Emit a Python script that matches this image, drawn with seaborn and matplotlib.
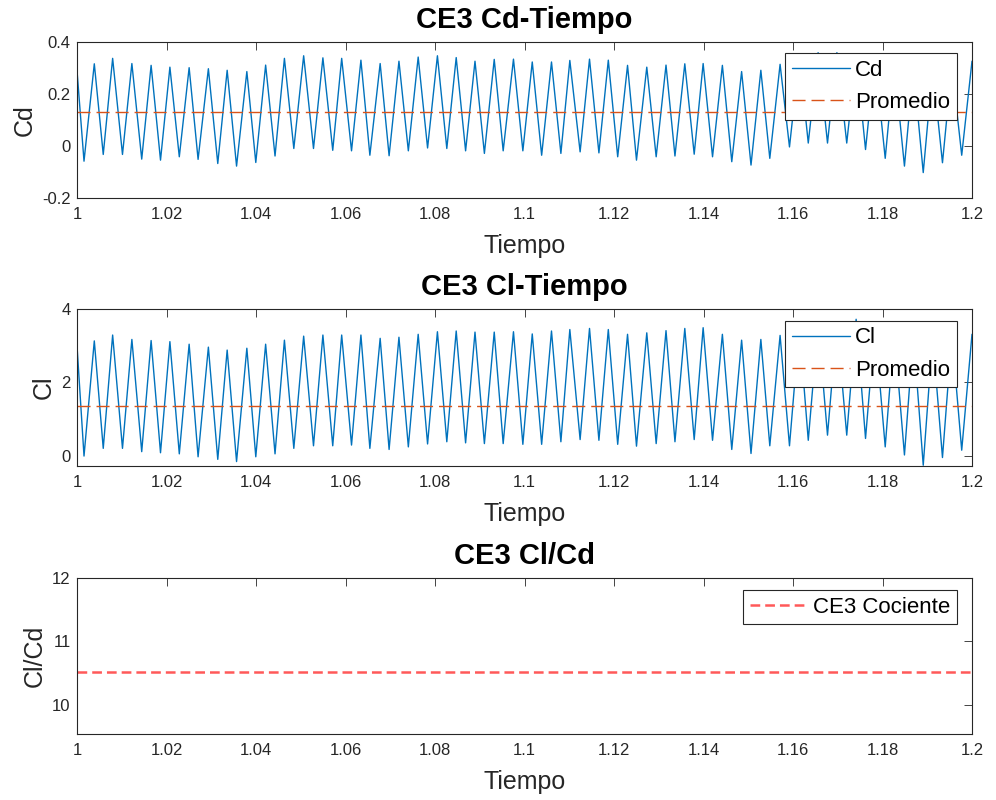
import matplotlib
matplotlib.use("Agg")
import matplotlib.pyplot as plt
import seaborn as sns

# ---------------- data ----------------
tiempo = [1.0000,
          1.0015, 1.0038, 1.0058, 1.0079, 1.0101, 1.0122, 1.0144, 1.0165, 1.0186, 1.0207,
          1.0228, 1.0250, 1.0270, 1.0293, 1.0314, 1.0335, 1.0356, 1.0379, 1.0399, 1.0421,
          1.0442, 1.0463, 1.0484, 1.0506, 1.0528, 1.0549, 1.0571, 1.0591, 1.0613, 1.0634,
          1.0654, 1.0677, 1.0697, 1.0719, 1.0740, 1.0762, 1.0783, 1.0805, 1.0826, 1.0847,
          1.0868, 1.0889, 1.0910, 1.0932, 1.0952, 1.0975, 1.0996, 1.1017, 1.1038, 1.1060,
          1.1081, 1.1101, 1.1124, 1.1145, 1.1166, 1.1187, 1.1208, 1.1230, 1.1250, 1.1273,
          1.1294, 1.1316,
          1.1336, 1.1358, 1.1379, 1.1399, 1.1420, 1.1442, 1.1463, 1.1485, 1.1506, 1.1528,
          1.1548, 1.1571, 1.1592, 1.1614, 1.1634, 1.1656, 1.1677, 1.1698, 1.1720, 1.1741,
          1.1762, 1.1783, 1.1806, 1.1826, 1.1849, 1.1869, 1.1891, 1.1912, 1.1934, 1.1955,
          1.1977,
          1.2000]

cd = [0.276,
      -0.059, 0.317, -0.033, 0.338, -0.033, 0.318, -0.051, 0.311, -0.055, 0.304,
      -0.042, 0.302, -0.052, 0.298, -0.068, 0.292, -0.078, 0.287, -0.064, 0.312,
      -0.039, 0.338, -0.010, 0.348, -0.010, 0.340, -0.017, 0.338, -0.019, 0.331,
      -0.036, 0.318, -0.038, 0.327, -0.019, 0.343, -0.008, 0.348, -0.010, 0.341,
      -0.019, 0.327, -0.029, 0.334, -0.019, 0.335, -0.019, 0.324, -0.036, 0.324,
      -0.029, 0.330, -0.023, 0.335, -0.027, 0.331, -0.042, 0.311, -0.055, 0.304,
      -0.042, 0.312,
      -0.039, 0.317, -0.032, 0.318, -0.042, 0.311, -0.061, 0.287, -0.074, 0.292,
      -0.048, 0.315, -0.004, 0.345, 0.011, 0.360, 0.011, 0.360, 0.011, 0.350,
      -0.014, 0.340, -0.048, 0.320, -0.078, 0.300, -0.103, 0.300, -0.065, 0.310,
      -0.036,
      0.327]

cl = [2.87,
      -0.01, 3.13, 0.20, 3.29, 0.20, 3.17, 0.11, 3.14, 0.08, 3.11,
      0.05, 3.04, -0.03, 2.96, -0.10, 2.88, -0.16, 2.93, -0.03, 3.04,
      0.05, 3.15, 0.20, 3.26, 0.27, 3.29, 0.27, 3.29, 0.29, 3.29,
      0.20, 3.20, 0.17, 3.23, 0.24, 3.31, 0.32, 3.38, 0.38, 3.40,
      0.35, 3.37, 0.33, 3.37, 0.33, 3.38, 0.31, 3.32, 0.31, 3.40,
      0.38, 3.44, 0.44, 3.47, 0.42, 3.44, 0.31, 3.31, 0.26, 3.35,
      0.33, 3.41,
      0.38, 3.47, 0.44, 3.49, 0.42, 3.31, 0.17, 3.15, 0.06, 3.17,
      0.27, 3.28, 0.27, 3.50, 0.42, 3.60, 0.56, 3.62, 0.56, 3.72,
      0.47, 3.55, 0.24, 3.40, 0.02, 3.30, -0.26, 3.25, -0.05, 3.30,
      0.15,
      3.31]

cd_promedio = 0.129
cl_promedio = 1.35
cociente = 10.52
t_rango = [1.0, 1.2]

xticks = [1.0, 1.02, 1.04, 1.06, 1.08, 1.1, 1.12, 1.14, 1.16, 1.18, 1.2]
xtick_labels = ["1", "1.02", "1.04", "1.06", "1.08", "1.1", "1.12", "1.14", "1.16", "1.18", "1.2"]
cd_yticks = [-0.2, 0, 0.2, 0.4]
cd_ytick_labels = ["-0.2", "0", "0.2", "0.4"]
cl_yticks = [0, 2, 4]
cl_ytick_labels = ["0", "2", "4"]
q_yticks = [10, 11, 12]
q_ytick_labels = ["10", "11", "12"]

# ---------------- style ----------------
sns.set_style("white")
plt.rcParams["font.family"] = ["Liberation Sans", "DejaVu Sans"]
plt.rcParams["axes.unicode_minus"] = False
plt.rcParams["lines.scale_dashes"] = False

AX_COL = "#262626"
BLUE = "#0072BD"
ORANGE = "#D95319"

W, H = 996, 800
fig = plt.figure(figsize=(W / 100, H / 100), dpi=100)


def add_ax(top, bottom):
    return fig.add_axes([77.3 / W, 1 - bottom / H, (972 - 77.3) / W, (bottom - top) / H])


ax1 = add_ax(42.3, 197.7)
ax2 = add_ax(309.0, 465.7)
ax3 = add_ax(577.7, 734.0)

dash_prom = (0, (9.4, 4.3))

sns.lineplot(x=tiempo, y=cd, ax=ax1, color=BLUE, linewidth=1.0, label="Cd",
             estimator=None, sort=False)
sns.lineplot(x=t_rango, y=[cd_promedio, cd_promedio], ax=ax1, color=ORANGE,
             linewidth=1.0, linestyle=dash_prom, label="Promedio", estimator=None, sort=False)

sns.lineplot(x=tiempo, y=cl, ax=ax2, color=BLUE, linewidth=1.0, label="Cl",
             estimator=None, sort=False)
sns.lineplot(x=t_rango, y=[cl_promedio, cl_promedio], ax=ax2, color=ORANGE,
             linewidth=1.0, linestyle=dash_prom, label="Promedio", estimator=None, sort=False)

sns.lineplot(x=t_rango, y=[cociente, cociente], ax=ax3, color="#ff0000", alpha=0.65,
             linewidth=1.8, linestyle=(0, (7.0, 3.6)), label="CE3 Cociente",
             estimator=None, sort=False)

configs = [
    (ax1, "CE3 Cd-Tiempo", "Cd", (-0.2, 0.4), cd_yticks, cd_ytick_labels, (0.983, 0.929)),
    (ax2, "CE3 Cl-Tiempo", "Cl", (-0.273, 4.0), cl_yticks, cl_ytick_labels, (0.983, 0.925)),
    (ax3, "CE3 Cl/Cd", "Cl/Cd", (9.54, 12.0), q_yticks, q_ytick_labels, (0.983, 0.921)),
]

for ax, title, ylab, ylim, yt, ytl, anchor in configs:
    ax.set_xlim(1.0, 1.2)
    ax.set_ylim(*ylim)
    ax.set_xticks(xticks)
    ax.set_xticklabels(xtick_labels)
    ax.set_yticks(yt)
    ax.set_yticklabels(ytl)
    ax.tick_params(direction="in", length=6, width=0.6, top=True, right=True,
                   labelsize=12, colors=AX_COL)
    ax.tick_params(axis="x", pad=6.5)
    ax.tick_params(axis="y", pad=4.8)
    for sp in ax.spines.values():
        sp.set_visible(True)
        sp.set_color(AX_COL)
        sp.set_linewidth(0.8)
    ax.set_title(title, fontsize=21, fontweight="bold", pad=10, color="black")
    ax.set_xlabel("Tiempo", fontsize=18, color=AX_COL, labelpad=8.5)
    ax.set_ylabel(ylab, fontsize=18, color=AX_COL, labelpad=4)
    leg = ax.legend(loc="upper right", bbox_to_anchor=anchor, borderaxespad=0,
                    fancybox=False, framealpha=1, edgecolor=AX_COL, fontsize=16,
                    handlelength=2.6, handletextpad=0.25, labelspacing=0.5,
                    borderpad=0.3)
    leg.get_frame().set_linewidth(0.8)
    for txt in leg.get_texts():
        txt.set_color("black")

fig.savefig("out.png", dpi=100)
